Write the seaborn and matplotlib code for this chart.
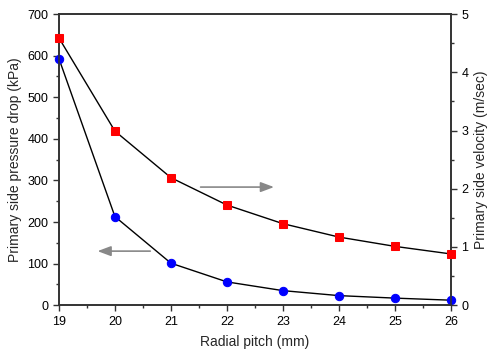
import matplotlib
matplotlib.use("Agg")
import matplotlib.pyplot as plt
import seaborn as sns
import pandas as pd
from matplotlib.ticker import MultipleLocator

sns.set_style("ticks")
plt.rcParams['font.family'] = ['Liberation Sans', 'DejaVu Sans']

radial_pitch = [19, 20, 21, 22, 23, 24, 25, 26]
pressure_drop = [593, 213, 101, 56, 35, 23, 17, 12]
velocity = [4.59, 2.99, 2.19, 1.72, 1.40, 1.17, 1.01, 0.88]

df = pd.DataFrame({"pitch": radial_pitch, "dp": pressure_drop, "v": velocity})

fig = plt.figure(figsize=(4.87, 3.52), dpi=100)
ax = fig.add_axes([0.121, 0.133, 0.805, 0.827])
ax2 = ax.twinx()

sns.lineplot(data=df, x="pitch", y="dp", ax=ax, color="black", lw=1, marker="o",
             markersize=6, markerfacecolor="blue", markeredgecolor="blue", clip_on=False, zorder=5)
sns.lineplot(data=df, x="pitch", y="v", ax=ax2, color="black", lw=1, marker="s",
             markersize=6, markerfacecolor="red", markeredgecolor="red", clip_on=False, zorder=5)

ax.set_xlim(19, 26)
ax.set_ylim(0, 700)
ax2.set_ylim(0, 5)
ax.xaxis.set_major_locator(MultipleLocator(1))
ax.xaxis.set_minor_locator(MultipleLocator(0.5))
ax.yaxis.set_major_locator(MultipleLocator(100))
ax.yaxis.set_minor_locator(MultipleLocator(50))
ax2.yaxis.set_major_locator(MultipleLocator(1))
ax2.yaxis.set_minor_locator(MultipleLocator(0.5))

for a in (ax, ax2):
    for s in a.spines.values():
        s.set_color("#333333")
        s.set_linewidth(1.2)
    a.tick_params(which="major", length=4, width=1, direction="out", labelsize=9, colors="#333333", labelcolor="black")
    a.tick_params(which="minor", length=2.5, width=1, direction="out", colors="#333333")

ax.set_xlabel("Radial pitch (mm)", fontsize=10, labelpad=5)
ax.set_ylabel("Primary side pressure drop (kPa)", fontsize=10, labelpad=4)
ax2.set_ylabel("Primary side velocity (m/sec)", fontsize=10, labelpad=4)

ax.annotate("", xy=(19.64, 130), xytext=(20.68, 130),
            arrowprops=dict(arrowstyle="-|>,head_length=0.8,head_width=0.3", color="#888888", lw=1.2))
ax.annotate("", xy=(22.89, 284), xytext=(21.48, 284),
            arrowprops=dict(arrowstyle="-|>,head_length=0.8,head_width=0.3", color="#888888", lw=1.2))

fig.savefig("out.png", dpi=100)
